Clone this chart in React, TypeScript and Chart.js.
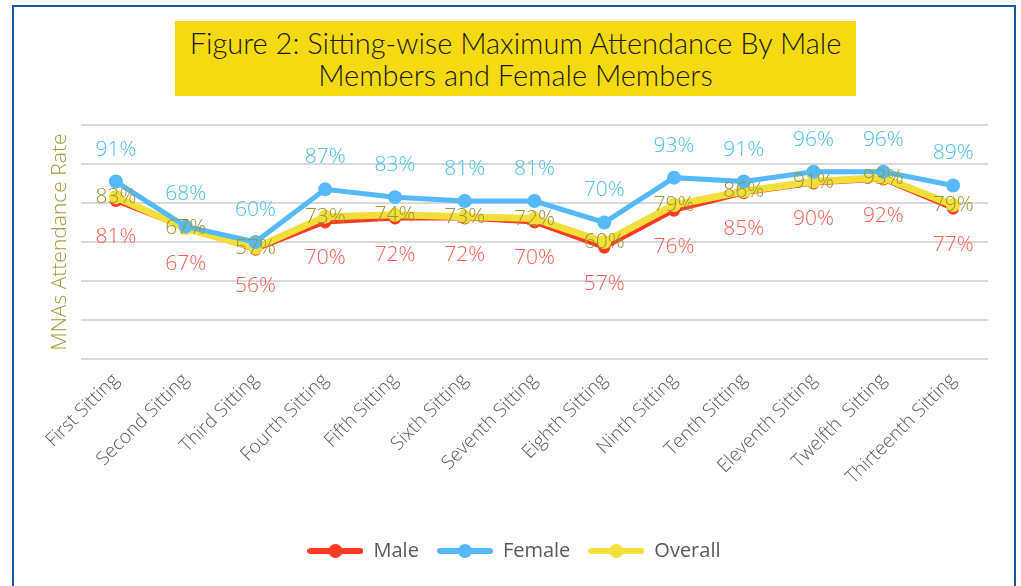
import React, { useEffect, useRef } from "react";
import { Chart, registerables } from "chart.js";

Chart.register(...registerables);

const categories = [
  "First Sitting",
  "Second Sitting",
  "Third Sitting",
  "Fourth Sitting",
  "Fifth Sitting",
  "Sixth Sitting",
  "Seventh Sitting",
  "Eighth Sitting",
  "Ninth Sitting",
  "Tenth Sitting",
  "Eleventh Sitting",
  "Twelfth  Sitting",
  "Thirteenth Sitting",
];

const maleValues = [81, 67, 56, 70, 72, 72, 70, 57, 76, 85, 90, 92, 77];
const femaleValues = [91, 68, 60, 87, 83, 81, 81, 70, 93, 91, 96, 96, 89];
const overallValues = [83, 67, 57, 73, 74, 73, 72, 60, 79, 86, 91, 93, 79];

const seriesNames = ["Male", "Female", "Overall"];
const titleLines = [
  "Figure 2: Sitting-wise Maximum Attendance By Male",
  "Members and Female Members",
];
const yAxisTitle = "MNAs Attendance Rate";

const lineColors = ["#ff3b24", "#55b9fb", "#f3df3c"];
const labelColors = ["#ff5d52", "#4cc1ea", "#9d9532"];
const labelOffsets = [36, -32, 0];

function makeLegendImage(color: string, lineW: number) {
  const c = document.createElement("canvas");
  c.width = 56;
  c.height = 16;
  const g = c.getContext("2d")!;
  g.strokeStyle = color;
  g.lineWidth = lineW;
  g.lineCap = "round";
  g.beginPath();
  g.moveTo(3, 8);
  g.lineTo(53, 8);
  g.stroke();
  g.fillStyle = color;
  g.beginPath();
  g.arc(28, 8, 7, 0, Math.PI * 2);
  g.fill();
  return c;
}

const pointLabelPlugin = {
  id: "pointLabels",
  afterDatasetsDraw(chart: any) {
    const ctx = chart.ctx;
    ctx.save();
    ctx.font = "300 21px 'Open Sans'";
    ctx.textAlign = "center";
    ctx.textBaseline = "middle";
    chart.data.datasets.forEach((ds: any, i: number) => {
      const meta = chart.getDatasetMeta(i);
      meta.data.forEach((pt: any, j: number) => {
        ctx.fillStyle = labelColors[i];
        ctx.fillText(ds.data[j] + "%", pt.x, pt.y + labelOffsets[i]);
      });
    });
    ctx.restore();
  },
};

export default function App() {
  const canvasRef = useRef<HTMLCanvasElement | null>(null);

  useEffect(() => {
    if (!canvasRef.current) return;
    const legendImages = [
      makeLegendImage(lineColors[0], 6),
      makeLegendImage(lineColors[1], 6),
      makeLegendImage(lineColors[2], 6),
    ];
    const chart = new Chart(canvasRef.current, {
      type: "line",
      data: {
        labels: categories,
        datasets: [
          {
            label: seriesNames[0],
            data: maleValues,
            borderColor: lineColors[0],
            backgroundColor: lineColors[0],
            borderWidth: 4,
            pointRadius: 6,
            pointBorderWidth: 0,
            order: 2,
          },
          {
            label: seriesNames[1],
            data: femaleValues,
            borderColor: lineColors[1],
            backgroundColor: lineColors[1],
            borderWidth: 5,
            pointRadius: 7,
            pointBorderWidth: 0,
            order: 0,
          },
          {
            label: seriesNames[2],
            data: overallValues,
            borderColor: lineColors[2],
            backgroundColor: lineColors[2],
            borderWidth: 7,
            pointRadius: 7,
            pointBorderWidth: 0,
            order: 1,
          },
        ],
      },
      options: {
        responsive: false,
        animation: false,
        layout: { padding: { left: 40, right: 33, top: 125, bottom: 15 } },
        plugins: {
          tooltip: { enabled: false },
          title: { display: false },
          legend: {
            position: "bottom",
            labels: {
              usePointStyle: true,
              pointStyleWidth: 56,
              padding: 18,
              color: "#595959",
              font: { family: "'Open Sans'", size: 20 },
              sort: (a: any, b: any) => a.datasetIndex - b.datasetIndex,
              generateLabels: (ch: any) => {
                const items = Chart.defaults.plugins.legend.labels.generateLabels(ch);
                return items.map((it: any) => ({
                  ...it,
                  pointStyle: legendImages[it.datasetIndex],
                }));
              },
            },
          },
        },
        scales: {
          x: {
            offset: true,
            grid: { display: false, drawTicks: false },
            border: { display: false },
            ticks: {
              color: "#595959",
              font: { family: "'Open Sans'", size: 19, weight: "300" },
              minRotation: 45,
              maxRotation: 45,
              padding: 10,
              autoSkip: false,
            },
            afterFit: (s: any) => {
              s.height = 164;
            },
          },
          y: {
            min: 0,
            max: 120,
            ticks: { display: false, stepSize: 20 },
            grid: { color: "#d9d9d9", lineWidth: 2, drawTicks: false },
            border: { display: false },
            title: {
              display: true,
              text: yAxisTitle,
              color: "#a59d3c",
              font: { family: "'Open Sans'", size: 21, weight: "300" },
              padding: { top: 7, bottom: 0 },
            },
            afterFit: (s: any) => {
              s.width = 41;
            },
          },
        },
      },
      plugins: [pointLabelPlugin],
    });
    return () => chart.destroy();
  }, []);

  return (
    <div
      style={{
        position: "fixed",
        left: 0,
        top: 0,
        width: 1021,
        height: 586,
        background: "#ffffff",
        overflow: "hidden",
      }}
    >
      <div
        style={{
          position: "absolute",
          left: 12,
          top: 5,
          width: 1004,
          height: 640,
          border: "2px solid #1a55a6",
          boxSizing: "border-box",
        }}
      />
      <div
        style={{
          position: "absolute",
          left: 175,
          top: 21,
          width: 681,
          height: 75,
          background: "#f5da12",
          color: "#1a1a1a",
          fontFamily: "Lato, 'Open Sans', sans-serif",
          fontWeight: 300,
          fontSize: 29,
          lineHeight: "32px",
          textAlign: "center",
          display: "flex",
          flexDirection: "column",
          justifyContent: "center",
        }}
      >
        <div>{titleLines[0]}</div>
        <div>{titleLines[1]}</div>
      </div>
      <canvas
        ref={canvasRef}
        width={1021}
        height={586}
        style={{ position: "absolute", left: 0, top: 0, width: 1021, height: 586 }}
      />
    </div>
  );
}
